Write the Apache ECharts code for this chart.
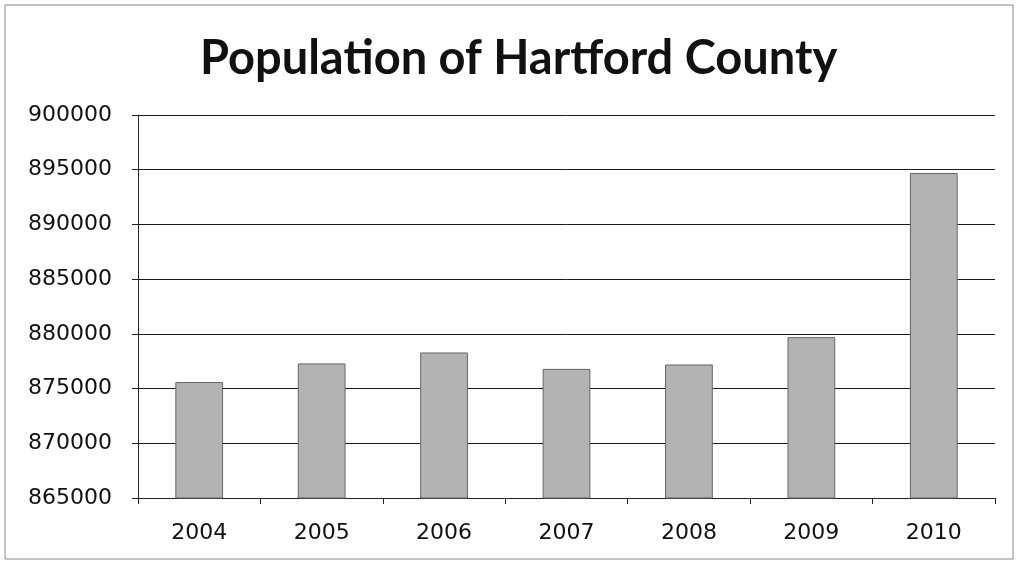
<!DOCTYPE html>
<html>
<head>
<meta charset="utf-8">
<script src="https://cdn.jsdelivr.net/npm/echarts@6/dist/echarts.min.js"></script>
<style>
html,body{margin:0;padding:0;background:#fff;}
#chart{width:1016px;height:563px;}
</style>
</head>
<body>
<div id="chart"></div>
<script>
var years = ['2004','2005','2006','2007','2008','2009','2010'];
var population = [875600, 877300, 878300, 876800, 877200, 879700, 894700];
var yMin = 865000, yMax = 900000, yStep = 5000;

var chart = echarts.init(document.getElementById('chart'), null, {renderer:'canvas'});
chart.setOption({
  animation: false,
  backgroundColor: '#ffffff',
  title: {
    text: 'Population of Hartford County',
    left: 195,
    top: 30,
    textStyle: {fontFamily: 'Lato', fontWeight: 'bold', fontSize: 47, color: '#111'}
  },
  graphic: [{
    type: 'rect',
    shape: {x: 5, y: 5, width: 1008, height: 554},
    style: {fill: 'none', stroke: '#888', lineWidth: 1}
  }],
  grid: {left: 138, right: 21, top: 115, bottom: 65, containLabel: false},
  xAxis: {
    type: 'category',
    data: years,
    axisLine: {lineStyle: {color: '#222', width: 1}},
    axisTick: {show: true, length: 6, lineStyle: {color: '#222'}},
    axisLabel: {fontFamily: 'DejaVu Sans', fontSize: 22, color: '#111', margin: 24}
  },
  yAxis: {
    type: 'value',
    min: yMin, max: yMax, interval: yStep,
    axisLine: {show: true, lineStyle: {color: '#222', width: 1}},
    axisTick: {show: true, length: 6, lineStyle: {color: '#222'}},
    splitLine: {show: true, lineStyle: {color: '#1a1a1a', width: 1}},
    axisLabel: {fontFamily: 'DejaVu Sans', fontSize: 22, color: '#111', margin: 26,
      formatter: function (v) { return String(v); }}
  },
  series: [{
    type: 'bar',
    data: population,
    barWidth: '39%',
    itemStyle: {color: '#b3b3b3', borderColor: '#666', borderWidth: 1}
  }]
});
</script>
</body>
</html>
